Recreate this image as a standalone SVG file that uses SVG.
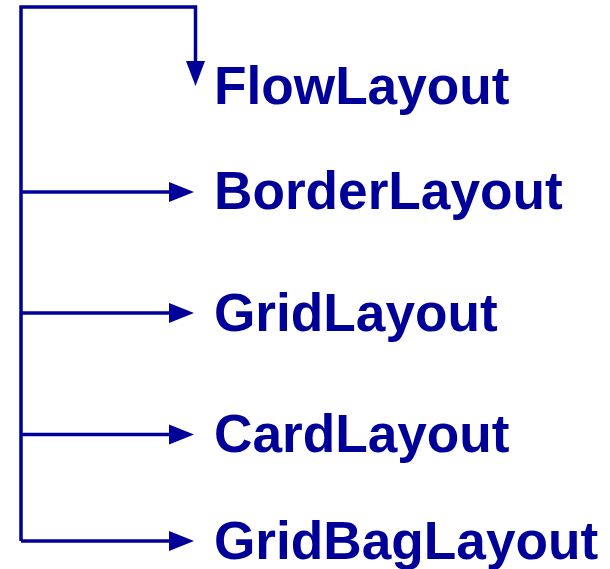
<svg xmlns="http://www.w3.org/2000/svg" width="610" height="569" viewBox="0 0 610 569">
<style>
.ln{fill:none;stroke:#000099;stroke-width:3.5}
.ah{fill:#000099}
.lbl{font-family:"Liberation Sans",Arial,sans-serif;font-weight:bold;font-size:53.2px;fill:#000099}
</style>
<rect width="610" height="569" fill="#ffffff"/>
<g id="connectors">
<polyline class="ln" points="21,541 21,7 195.5,7 195.5,62"/>
<polygon class="ah" points="186,61 205,61 195.5,86"/>
<line class="ln" x1="21" y1="192" x2="170" y2="192"/>
<polygon class="ah" points="169,182 194,192 169,202"/>
<line class="ln" x1="21" y1="313" x2="170" y2="313"/>
<polygon class="ah" points="169,303 194,313 169,323"/>
<line class="ln" x1="21" y1="434.5" x2="170" y2="434.5"/>
<polygon class="ah" points="169,424.5 194,434.5 169,444.5"/>
<line class="ln" x1="21" y1="541" x2="170" y2="541"/>
<polygon class="ah" points="169,531 194,541 169,551"/>
</g>
<g id="flow"><text class="lbl" x="214" y="104">FlowLayout</text></g>
<g id="border"><text class="lbl" x="214" y="209">BorderLayout</text></g>
<g id="grid"><text class="lbl" x="214" y="331">GridLayout</text></g>
<g id="card"><text class="lbl" x="214" y="452">CardLayout</text></g>
<g id="gridbag"><text class="lbl" x="214" y="559">GridBagLayout</text></g>
</svg>
